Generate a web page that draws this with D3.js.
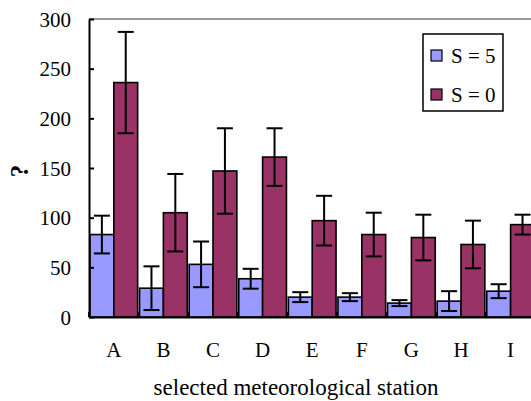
<!DOCTYPE html>
<html>
<head>
<meta charset="utf-8">
<script src="https://cdn.jsdelivr.net/npm/d3@7"></script>
<style>
  html, body { margin: 0; padding: 0; background: #fff; }
  svg { display: block; }
</style>
</head>
<body>
<svg id="chart" width="531" height="401"></svg>
<script>
// stations and the two series (mean, error)
var stations = ["A", "B", "C", "D", "E", "F", "G", "H", "I"];
var seriesNames = ["S = 5", "S = 0"];
var s5Values = [83, 29, 53, 38.5, 20, 20, 14, 16, 26];
var s5Errors = [19, 22, 23, 10, 5, 4, 3, 10, 7];
var s0Values = [236, 105, 147, 161, 97, 83, 80, 73, 93];
var s0Errors = [51, 39, 43, 29, 25, 22, 23, 24, 10];
var yTicks = [0, 50, 100, 150, 200, 250, 300];

var colors = { "S = 5": "#9999FF", "S = 0": "#993366" };
var serif = "Liberation Serif";

(function(){
  var svg = d3.select("#chart").attr("font-family", serif);
  var left = 89, plotTop = 19, bottom = 317, step = 49.6;
  var right = left + step * stations.length;

  var x = d3.scaleBand().domain(stations).range([left, right]).padding(0);
  var x1 = d3.scaleBand().domain(seriesNames).range([0, x.bandwidth()])
    .paddingInner(0).paddingOuter(0.04);
  var y = d3.scaleLinear().domain([0, 300]).range([bottom, plotTop]);

  var rows = stations.map(function(s, i){
    return [
      { st: s, name: "S = 5", v: s5Values[i], e: s5Errors[i] },
      { st: s, name: "S = 0", v: s0Values[i], e: s0Errors[i] }
    ];
  });

  // top border of plot area
  svg.append("line")
    .attr("x1", left).attr("x2", 531)
    .attr("y1", y(300)).attr("y2", y(300))
    .attr("stroke", "#999").attr("stroke-width", 2);

  // small ticks on category boundaries
  svg.append("g").selectAll("line")
    .data(d3.range(stations.length + 1))
    .enter().append("line")
    .attr("x1", function(k){ return left + k * step; })
    .attr("x2", function(k){ return left + k * step; })
    .attr("y1", bottom).attr("y2", bottom - 5)
    .attr("stroke", "#000").attr("stroke-width", 2);

  // bars
  var groups = svg.append("g").selectAll("g")
    .data(rows)
    .enter().append("g")
    .attr("transform", function(d){ return "translate(" + x(d[0].st) + ",0)"; });

  groups.selectAll("rect")
    .data(function(d){ return d; })
    .enter().append("rect")
    .attr("x", function(d){ return x1(d.name); })
    .attr("width", x1.bandwidth())
    .attr("y", function(d){ return y(d.v); })
    .attr("height", function(d){ return y(0) - y(d.v); })
    .attr("fill", function(d){ return colors[d.name]; })
    .attr("stroke", "#000").attr("stroke-width", 1.6);

  // error bars
  var cap = 8;
  var cx = function(d){ return x1(d.name) + x1.bandwidth() / 2; };
  var err = groups.selectAll("g.err")
    .data(function(d){ return d; })
    .enter().append("g").attr("class", "err")
    .attr("stroke", "#000").attr("stroke-width", 2);

  err.append("line")
    .attr("x1", cx).attr("x2", cx)
    .attr("y1", function(d){ return y(d.v + d.e); })
    .attr("y2", function(d){ return y(Math.max(0, d.v - d.e)); });
  err.append("line")
    .attr("x1", function(d){ return cx(d) - cap; })
    .attr("x2", function(d){ return cx(d) + cap; })
    .attr("y1", function(d){ return y(d.v + d.e); })
    .attr("y2", function(d){ return y(d.v + d.e); });
  err.append("line")
    .attr("x1", function(d){ return cx(d) - cap; })
    .attr("x2", function(d){ return cx(d) + cap; })
    .attr("y1", function(d){ return y(Math.max(0, d.v - d.e)); })
    .attr("y2", function(d){ return y(Math.max(0, d.v - d.e)); });

  // y axis
  var yAxis = svg.append("g")
    .attr("transform", "translate(" + left + ",0)")
    .call(d3.axisLeft(y).tickValues(yTicks).tickSize(-5).tickPadding(18).tickSizeOuter(0));
  yAxis.attr("font-family", serif).attr("font-size", 21);
  yAxis.select(".domain").attr("stroke", "#000").attr("stroke-width", 2);
  yAxis.selectAll(".tick line").attr("stroke", "#000").attr("stroke-width", 2);
  yAxis.selectAll(".tick text").attr("fill", "#000").attr("dy", "0.34em");

  // x axis
  var xAxis = svg.append("g")
    .attr("transform", "translate(0," + bottom + ")")
    .call(d3.axisBottom(x).tickSize(0).tickPadding(25).tickSizeOuter(0));
  xAxis.attr("font-family", serif).attr("font-size", 21);
  xAxis.select(".domain").attr("stroke", "#000").attr("stroke-width", 2);
  xAxis.selectAll(".tick text").attr("fill", "#000");

  // axis titles
  svg.append("text")
    .attr("x", 296).attr("y", 395)
    .attr("text-anchor", "middle")
    .attr("font-size", 23)
    .text("selected meteorological station");

  svg.append("text")
    .attr("transform", "translate(28,171) rotate(-90)")
    .attr("text-anchor", "middle")
    .attr("font-size", 25).attr("font-weight", "bold")
    .text("?");

  // legend
  var legend = svg.append("g").attr("transform", "translate(423,34)");
  legend.append("rect")
    .attr("width", 80).attr("height", 77)
    .attr("fill", "#fff").attr("stroke", "#000").attr("stroke-width", 1.5);
  var items = legend.selectAll("g.item")
    .data(seriesNames)
    .enter().append("g").attr("class", "item")
    .attr("transform", function(d, i){ return "translate(8," + (16 + i * 39) + ")"; });
  items.append("rect")
    .attr("width", 11).attr("height", 11)
    .attr("fill", function(d){ return colors[d]; })
    .attr("stroke", "#000").attr("stroke-width", 1.2);
  items.append("text")
    .attr("x", 20).attr("y", 13)
    .attr("font-size", 21)
    .text(function(d){ return d; });
})();
</script>
</body>
</html>
